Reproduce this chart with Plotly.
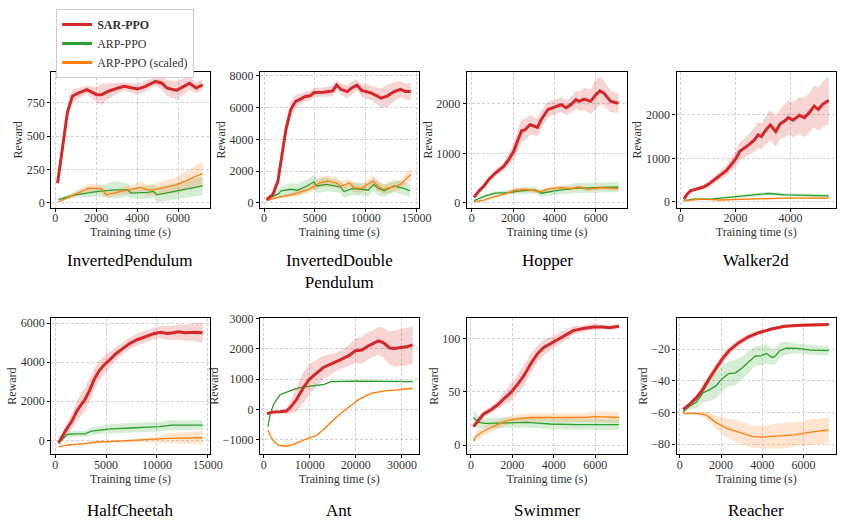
import plotly.graph_objects as go

# ---------------- data ----------------
TITLES = ["InvertedPendulum", "InvertedDouble<br>Pendulum", "Hopper", "Walker2d",
          "HalfCheetah", "Ant", "Swimmer", "Reacher"]
SERIES_NAMES = ["<b>SAR-PPO</b>", "ARP-PPO", "ARP-PPO (scaled)"]

# InvertedPendulum
IP_SAR_X = [112, 590, 829, 1147, 1546, 2024, 2263, 2582, 3060, 3378, 4016, 4414, 4892, 5211, 5450, 5928, 6566, 6885, 7203]
IP_SAR_Y = [148, 676, 799, 824, 848, 811, 811, 836, 861, 873, 853, 873, 910, 897, 861, 843, 897, 861, 885]
IP_SAR_B = [10, 40, 50, 40, 30, 60, 80, 60, 40, 30, 40, 40, 30, 50, 60, 70, 50, 40, 40]
IP_ARP_X = [150, 988, 2100, 2900, 3540, 3700, 4500, 4800, 4970, 5770, 7200]
IP_ARP_Y = [25, 61, 86, 98, 98, 74, 79, 86, 61, 86, 128]
IP_ARP_B = [10, 20, 40, 65, 50, 40, 50, 50, 60, 60, 70]
IP_SCL_X = [150, 830, 1630, 2260, 2500, 3220, 4180, 4500, 4800, 5930, 7200]
IP_SCL_Y = [7, 57, 111, 106, 61, 86, 116, 98, 98, 135, 221]
IP_SCL_B = [5, 20, 30, 30, 20, 25, 40, 40, 45, 60, 90]

# InvertedDoublePendulum
IDP_SAR_X = [254, 889, 1365, 1841, 2159, 2635, 3111, 3587, 4063, 4540, 4921, 5810, 6762, 7143, 7556, 8190, 8667, 9143, 9619, 10095, 10571, 11524, 12159, 12794, 13429, 13905, 14444]
IDP_SAR_Y = [200, 554, 1374, 3221, 4656, 5887, 6400, 6544, 6708, 6749, 6954, 6974, 7056, 7426, 7159, 7015, 7262, 7426, 7077, 7015, 6913, 6605, 6749, 7015, 7159, 7015, 7015]
IDP_SAR_B = [50, 100, 200, 400, 500, 500, 400, 350, 300, 300, 300, 300, 350, 300, 350, 400, 400, 350, 400, 450, 450, 600, 700, 600, 500, 500, 550]
IDP_ARP_X = [254, 1365, 1683, 2635, 3270, 4222, 4921, 5175, 6127, 7079, 7556, 7873, 8667, 9619, 10254, 10794, 11206, 11841, 12794, 13746, 14381]
IDP_ARP_Y = [246, 554, 759, 862, 800, 1067, 1333, 1067, 1169, 1067, 1005, 718, 903, 862, 800, 1169, 923, 759, 1067, 923, 759]
IDP_ARP_B = [50, 250, 300, 400, 400, 400, 450, 450, 450, 400, 400, 400, 400, 400, 400, 450, 450, 400, 400, 400, 400]
IDP_SCL_X = [254, 1365, 2952, 4540, 5492, 6286, 7079, 7556, 8032, 8413, 8825, 9619, 10254, 10730, 11206, 11683, 12794, 13429, 14063, 14444]
IDP_SCL_Y = [144, 349, 554, 903, 1272, 1374, 1272, 1067, 1169, 1272, 964, 923, 1210, 1374, 1067, 862, 1005, 1169, 1579, 1785]
IDP_SCL_B = [30, 80, 150, 250, 300, 350, 350, 300, 300, 300, 300, 300, 300, 350, 350, 300, 300, 300, 350, 400]

# Hopper
HOP_SAR_X = [111, 350, 589, 827, 1146, 1543, 1782, 2021, 2260, 2419, 2578, 2817, 2975, 3182, 3373, 3691, 4010, 4328, 4567, 4805, 5044, 5203, 5442, 5760, 5998, 6205, 6396, 6714, 7000, 7097]
HOP_SAR_Y = [112, 243, 342, 474, 605, 737, 868, 1033, 1296, 1461, 1474, 1579, 1559, 1526, 1691, 1888, 1934, 1987, 1921, 1987, 2086, 2053, 2099, 2053, 2184, 2263, 2217, 2053, 2020, 2030]
HOP_SAR_B = [30, 40, 50, 50, 60, 80, 120, 180, 220, 230, 220, 200, 180, 180, 180, 160, 150, 150, 150, 160, 180, 200, 220, 250, 300, 280, 250, 220, 200, 200]
HOP_ARP_X = [111, 668, 1146, 1782, 2419, 3055, 3373, 4010, 4964, 5919, 7097]
HOP_ARP_Y = [46, 145, 197, 210, 243, 263, 197, 243, 296, 309, 322]
HOP_ARP_B = [15, 30, 40, 50, 60, 70, 70, 80, 100, 100, 100]
HOP_SCL_X = [111, 589, 987, 1464, 2101, 2578, 2896, 3293, 3771, 4328, 4805, 5203, 5601, 6237, 7097]
HOP_SCL_Y = [20, 59, 112, 164, 257, 276, 257, 224, 289, 309, 289, 322, 276, 309, 289]
HOP_SCL_B = [10, 20, 25, 30, 40, 40, 40, 40, 40, 40, 40, 40, 40, 40, 40]

# Walker2d
WAL_SAR_X = [119, 237, 356, 593, 831, 1009, 1246, 1484, 1662, 1840, 2018, 2160, 2315, 2493, 2671, 2825, 2944, 3086, 3264, 3466, 3620, 3798, 3917, 4095, 4332, 4510, 4688, 4866, 5021, 5163, 5401]
WAL_SAR_Y = [60, 173, 248, 301, 338, 398, 511, 624, 714, 850, 1000, 1165, 1226, 1316, 1414, 1541, 1504, 1639, 1767, 1617, 1789, 1865, 1940, 1880, 1992, 1940, 2053, 2203, 2128, 2241, 2338]
WAL_SAR_B = [20, 30, 30, 40, 50, 60, 80, 100, 120, 150, 180, 200, 220, 250, 270, 300, 300, 320, 350, 350, 350, 380, 400, 400, 420, 450, 450, 480, 500, 520, 550]
WAL_ARP_X = [119, 475, 1068, 1780, 2611, 3205, 3798, 5401]
WAL_ARP_Y = [23, 60, 60, 98, 150, 188, 158, 135]
WAL_ARP_B = [10, 20, 20, 30, 40, 40, 40, 40]
WAL_SCL_X = [119, 831, 1424, 2611, 3798, 5401]
WAL_SCL_Y = [23, 60, 38, 60, 83, 83]
WAL_SCL_B = [10, 15, 15, 15, 20, 20]

# HalfCheetah
HC_SAR_X = [317, 540, 1016, 1651, 2127, 2603, 2921, 3397, 3873, 4349, 4825, 5460, 5937, 6571, 7206, 8000, 8952, 9746, 10381, 11016, 11651, 12127, 12762, 13714, 14508]
HC_SAR_Y = [-133, 83, 500, 1000, 1500, 1867, 2083, 2583, 3167, 3583, 3867, 4167, 4417, 4667, 4917, 5133, 5333, 5467, 5533, 5467, 5500, 5550, 5500, 5533, 5500]
HC_SAR_B = [50, 100, 250, 400, 500, 600, 600, 600, 550, 500, 450, 400, 350, 300, 300, 300, 300, 300, 300, 350, 350, 400, 400, 450, 500]
HC_ARP_X = [317, 698, 1175, 1968, 2921, 3556, 4508, 5460, 7365, 8952, 10222, 11492, 14508]
HC_ARP_Y = [-133, 83, 300, 333, 333, 467, 533, 583, 633, 667, 700, 783, 783]
HC_ARP_B = [50, 100, 150, 150, 150, 200, 200, 250, 250, 250, 250, 250, 250]
HC_SCL_X = [317, 1016, 2921, 4190, 5778, 8000, 9905, 11175, 14508]
HC_SCL_Y = [-333, -250, -167, -83, -50, 0, 33, 100, 133]
HC_SCL_B = [30, 30, 40, 50, 60, 80, 150, 250, 350]

# Ant
ANT_SAR_X = [711, 2132, 3554, 4975, 6041, 7107, 8529, 9950, 11372, 12793, 14215, 15636, 17058, 18479, 19901, 21322, 22744, 24876, 25942, 27363, 28429, 29851, 31272, 32338]
ANT_SAR_Y = [-140, -86, -75, -54, 108, 323, 700, 1002, 1185, 1369, 1476, 1563, 1670, 1778, 1940, 1961, 2101, 2263, 2209, 2026, 2015, 2047, 2080, 2134]
ANT_SAR_B = [30, 40, 50, 100, 250, 400, 500, 500, 450, 400, 350, 300, 300, 350, 400, 450, 450, 450, 500, 550, 600, 600, 620, 620]
ANT_ARP_X = [924, 1421, 2132, 3554, 5686, 7818, 10661, 13149, 14570, 19901, 32338]
ANT_ARP_Y = [-571, -162, 162, 485, 614, 722, 776, 830, 916, 938, 916]
ANT_ARP_B = [30, 30, 30, 30, 30, 30, 30, 30, 30, 30, 30]
ANT_SCL_X = [924, 1421, 2132, 3198, 4620, 6397, 8529, 11372, 12793, 14925, 17768, 20611, 23454, 26297, 29140, 32338]
ANT_SCL_Y = [-679, -862, -1045, -1185, -1218, -1164, -1024, -862, -700, -377, 0, 323, 539, 614, 647, 700]
ANT_SCL_B = [30, 30, 30, 30, 30, 30, 30, 30, 30, 30, 30, 30, 30, 30, 30, 30]

# Swimmer
SW_SAR_X = [126, 363, 600, 994, 1310, 1626, 1942, 2257, 2573, 2889, 3205, 3520, 3994, 4467, 4941, 5414, 5888, 6361, 6677, 7151]
SW_SAR_Y = [17.4, 22.9, 29.1, 33.6, 38.2, 44.3, 49.8, 57.2, 65.7, 76.5, 85.6, 91.7, 96.9, 102.4, 107.6, 109.5, 111, 111, 110.4, 111.6]
SW_SAR_B = [2, 3, 3, 3, 4, 6, 8, 9, 10, 9, 8, 7, 6, 5, 4, 3, 3, 2, 2, 2]
SW_ARP_X = [126, 363, 679, 1310, 1942, 2731, 3205, 3836, 5099, 5888, 7151]
SW_ARP_Y = [26, 21.4, 20.5, 20.8, 21.4, 21.4, 20.8, 19.9, 19.3, 19.3, 19.3]
SW_ARP_B = [7, 6, 5, 5, 5, 5, 5, 5, 5, 5, 5]
SW_SCL_X = [126, 284, 679, 1153, 1626, 2099, 2889, 3836, 5414, 6046, 7151]
SW_SCL_Y = [4, 9.2, 13.8, 18.3, 22.3, 24.5, 26, 26, 26, 26.9, 26]
SW_SCL_B = [3, 4, 4, 4, 4, 4, 4, 4, 4, 5, 5]

# Reacher
RE_SAR_X = [159, 476, 794, 1111, 1429, 1746, 2063, 2381, 2857, 3333, 3810, 4444, 5079, 5873, 6667, 7222]
RE_SAR_Y = [-58.0, -54.9, -50.8, -45.7, -38.5, -32.3, -26.2, -21.0, -15.9, -12.2, -9.7, -7.3, -5.6, -5.0, -4.6, -4.4]
RE_SAR_B = [1, 1.5, 2, 2.5, 3, 3, 3, 2.5, 2, 1.5, 1, 1, 1, 1, 1, 1]
RE_ARP_X = [159, 476, 794, 1111, 1429, 1746, 2063, 2381, 2698, 3016, 3333, 3651, 3968, 4206, 4444, 4603, 4841, 5159, 5714, 6349, 7222]
RE_ARP_Y = [-59.5, -56.0, -53.5, -47.7, -45.7, -43.2, -38.5, -35.4, -35.0, -31.9, -28.2, -24.5, -24.1, -22.7, -25.1, -24.7, -21.0, -19.4, -19.6, -20.6, -21.0]
RE_ARP_B = [1, 2, 4, 6, 7, 8, 8, 8, 8, 7, 7, 6, 6, 6, 5, 5, 5, 4, 3, 3, 3]
RE_SCL_X = [159, 794, 1270, 1746, 2222, 2857, 3492, 3968, 4762, 5556, 6349, 7222]
RE_SCL_Y = [-60.5, -60.5, -61.5, -66.2, -69.7, -72.4, -75.1, -75.5, -74.9, -74.1, -72.4, -71.0]
RE_SCL_B = [0.5, 1, 2, 4, 6, 7, 7, 7, 8, 8, 8, 8]

# tick values per panel
X_TICKS = [[0, 2000, 4000, 6000], [0, 5000, 10000, 15000], [0, 2000, 4000, 6000], [0, 2000, 4000],
           [0, 5000, 10000, 15000], [0, 10000, 20000, 30000], [0, 2000, 4000, 6000], [0, 2000, 4000, 6000]]
Y_TICKS = [[0, 250, 500, 750], [0, 2000, 4000, 6000, 8000], [0, 1000, 2000], [0, 1000, 2000],
           [0, 2000, 4000, 6000], [-1000, 0, 1000, 2000, 3000], [0, 50, 100], [-80, -60, -40, -20]]

PANELS = [
    [(IP_SAR_X, IP_SAR_Y, IP_SAR_B), (IP_ARP_X, IP_ARP_Y, IP_ARP_B), (IP_SCL_X, IP_SCL_Y, IP_SCL_B)],
    [(IDP_SAR_X, IDP_SAR_Y, IDP_SAR_B), (IDP_ARP_X, IDP_ARP_Y, IDP_ARP_B), (IDP_SCL_X, IDP_SCL_Y, IDP_SCL_B)],
    [(HOP_SAR_X, HOP_SAR_Y, HOP_SAR_B), (HOP_ARP_X, HOP_ARP_Y, HOP_ARP_B), (HOP_SCL_X, HOP_SCL_Y, HOP_SCL_B)],
    [(WAL_SAR_X, WAL_SAR_Y, WAL_SAR_B), (WAL_ARP_X, WAL_ARP_Y, WAL_ARP_B), (WAL_SCL_X, WAL_SCL_Y, WAL_SCL_B)],
    [(HC_SAR_X, HC_SAR_Y, HC_SAR_B), (HC_ARP_X, HC_ARP_Y, HC_ARP_B), (HC_SCL_X, HC_SCL_Y, HC_SCL_B)],
    [(ANT_SAR_X, ANT_SAR_Y, ANT_SAR_B), (ANT_ARP_X, ANT_ARP_Y, ANT_ARP_B), (ANT_SCL_X, ANT_SCL_Y, ANT_SCL_B)],
    [(SW_SAR_X, SW_SAR_Y, SW_SAR_B), (SW_ARP_X, SW_ARP_Y, SW_ARP_B), (SW_SCL_X, SW_SCL_Y, SW_SCL_B)],
    [(RE_SAR_X, RE_SAR_Y, RE_SAR_B), (RE_ARP_X, RE_ARP_Y, RE_ARP_B), (RE_SCL_X, RE_SCL_Y, RE_SCL_B)],
]

# ---------------- styling / layout ----------------
W, H = 851, 523
COLORS = ["#d62728", "#2ca02c", "#ff7f0e"]
FILLS = ["rgba(214,39,40,0.2)", "rgba(44,160,44,0.2)", "rgba(255,127,14,0.2)"]
WIDTHS = [3.0, 1.3, 1.3]
FONT = "Liberation Serif"
TXT = "#333"

COLS_PX = [(52, 213), (264, 425), (474, 637), (687, 849)]
ROWS_PX = [(67, 205), (317, 455)]
X_RANGES = [[-200, 7550], [-400, 15200], [-240, 7526], [-150, 5662],
            [-400, 15200], [-800, 33600], [-200, 7550], [-159, 7571]]
Y_RANGES = [[-37, 981], [-310, 8250], [-99, 2645], [-143, 2992],
            [-700, 6250], [-1476, 3017], [-8.3, 119.3], [-86.2, -0.47]]
TITLE_Y_PX = [258, 512]


def fmt(v):
    s = f"{abs(v):g}"
    return ("\u2212" + s) if v < 0 else s


fig = go.Figure()
layout = dict(width=W, height=H, margin=dict(l=0, r=0, t=0, b=0),
              plot_bgcolor="white", paper_bgcolor="white",
              font=dict(family=FONT, size=11, color=TXT))
annotations = []

for i, series in enumerate(PANELS):
    r, c = divmod(i, 4)
    xn = "" if i == 0 else str(i + 1)
    xa, ya = "x" + xn, "y" + xn
    # bands
    for k, (xs, ys, bs) in enumerate(series):
        up = [y + b for y, b in zip(ys, bs)]
        lo = [y - b for y, b in zip(ys, bs)]
        fig.add_trace(go.Scatter(x=list(xs) + list(xs)[::-1], y=up + lo[::-1], fill="toself",
                                 fillcolor=FILLS[k], line=dict(width=0), mode="lines",
                                 showlegend=False, hoverinfo="skip", xaxis=xa, yaxis=ya))
    # lines (red on top)
    for k in [1, 2, 0]:
        xs, ys, bs = series[k]
        fig.add_trace(go.Scatter(x=xs, y=ys, mode="lines", name=SERIES_NAMES[k],
                                 line=dict(color=COLORS[k], width=WIDTHS[k]),
                                 showlegend=False, xaxis=xa, yaxis=ya))
    l, rgt = COLS_PX[c]
    t, b = ROWS_PX[r]
    common = dict(showline=True, mirror=True, linecolor="black", linewidth=1.2,
                  showgrid=True, gridcolor="#d0d0d0", griddash="3px,2px", gridwidth=0.8,
                  zeroline=False, ticks="outside", ticklen=3, tickcolor="black",
                  tickfont=dict(family=FONT, size=12, color=TXT))
    layout["xaxis" + xn] = dict(common, domain=[l / W, rgt / W], anchor=ya, range=X_RANGES[i],
                                tickvals=X_TICKS[i], ticktext=[fmt(v) for v in X_TICKS[i]],
                                ticklabelstandoff=-4,
                                title=dict(text="Training time (s)", standoff=0,
                                           font=dict(family=FONT, size=12, color=TXT)))
    layout["yaxis" + xn] = dict(common, domain=[1 - b / H, 1 - t / H], anchor=xa, range=Y_RANGES[i],
                                tickvals=Y_TICKS[i], ticktext=[fmt(v) for v in Y_TICKS[i]],
                                title=dict(text="Reward", standoff=1,
                                           font=dict(family=FONT, size=12, color=TXT)))
    annotations.append(dict(text=TITLES[i], x=(l + rgt) / 2 / W, y=1 - TITLE_Y_PX[r] / H,
                            xref="paper", yref="paper", showarrow=False,
                            xanchor="center", yanchor="middle" if i != 1 else "top",
                            font=dict(family=FONT, size=17, color="black")))

# two-line title: anchor at top of first line
annotations[1]["y"] = 1 - (TITLE_Y_PX[0] - 11) / H

# legend entries (dummy traces)
for k in range(3):
    fig.add_trace(go.Scatter(x=[None], y=[None], mode="lines", name=SERIES_NAMES[k],
                             line=dict(color=COLORS[k], width=3), showlegend=True))

layout["annotations"] = annotations
layout["legend"] = dict(x=57 / W, y=1 - 3 / H, xanchor="left", yanchor="top",
                        bgcolor="white", bordercolor="#cccccc", borderwidth=1,
                        font=dict(family=FONT, size=12, color=TXT),
                        itemwidth=30, tracegroupgap=0)
fig.update_layout(**layout)
fig.write_html("out.html")
